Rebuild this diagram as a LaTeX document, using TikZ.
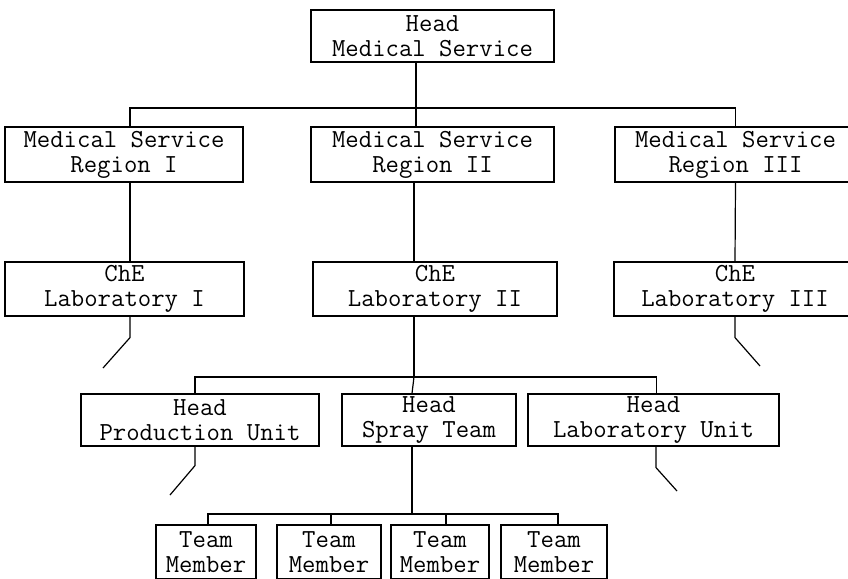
\documentclass[tikz,border=0pt]{standalone}
\usepackage{fontspec}

\begin{document}
\begin{tikzpicture}[x=1pt, y=-1pt,
  unit/.style={rectangle, draw, line width=1.2pt, inner sep=0pt, align=center, font=\ttfamily\fontsize{26}{25}\selectfont, minimum height=53},
  link/.style={line width=1.2pt}]
\useasboundingbox (0,0) rectangle (848,578);
\node[unit, minimum width=243, minimum height=52] (head) at (432.5, 36) {Head\\Medical Service};
\node[unit, minimum width=238, minimum height=55] (reg1) at (124, 154.5) {Medical Service\\Region I};
\node[unit, minimum width=243, minimum height=55] (reg2) at (432.5, 154.5) {Medical Service\\Region II};
\node[unit, minimum width=241, minimum height=55] (reg3) at (735.5, 154.5) {Medical Service\\Region III};
\node[unit, minimum width=239, minimum height=54] (che1) at (124.5, 289) {ChE\\Laboratory I};
\node[unit, minimum width=244, minimum height=54] (che2) at (435, 289) {ChE\\Laboratory II};
\node[unit, minimum width=242, minimum height=54] (che3) at (735, 289) {ChE\\Laboratory III};
\node[unit, minimum width=238, minimum height=52] (prod) at (200, 420) {Head\\Production Unit};
\node[unit, minimum width=174, minimum height=52] (spray) at (429, 420) {Head\\Spray Team};
\node[unit, minimum width=251, minimum height=52] (labu) at (653.5, 420) {Head\\Laboratory Unit};
\node[unit, minimum width=100, minimum height=54] (tm1) at (206, 552) {Team\\Member};
\node[unit, minimum width=104, minimum height=54] (tm2) at (329, 552) {Team\\Member};
\node[unit, minimum width=98, minimum height=54] (tm3) at (440, 552) {Team\\Member};
\node[unit, minimum width=106, minimum height=54] (tm4) at (554, 552) {Team\\Member};
\coordinate (j1) at (416, 108);
\coordinate (j2) at (414, 377);
\coordinate (j3) at (412, 514);
\coordinate (cut1) at (103, 368);
\coordinate (cut3) at (760, 366);
\coordinate (cutp) at (170, 495);
\coordinate (cutl) at (677, 491);
\draw[link] (head.south -| j1) -- (j1);
\draw[link] ([xshift=6]reg1.north) |- (j1) -| (reg3.north);
\draw[link] (j1) -- (j1 |- reg2.north);
\draw[link] ([xshift=6]reg1.south) -- ([xshift=5.5]che1.north);
\draw[link] ([xshift=-18.5]reg2.south) -- ([xshift=-21]che2.north);
\draw[link] (reg3.south) -- (che3.north);
\draw[link] ([xshift=5.5]che1.south) -- ++(0,21) -- (cut1);
\draw[link] (che3.south) -- ++(0,21) -- (cut3);
\draw[link] ([xshift=-21]che2.south) -- (j2);
\draw[link] ([xshift=-5]prod.north) |- (j2) -| ([xshift=3]labu.north);
\draw[link] (j2) -- ([xshift=-17]spray.north);
\draw[link] ([xshift=-5]prod.south) -- ++(0,19) -- (cutp);
\draw[link] ([xshift=2.5]labu.south) -- ++(0,21) -- (cutl);
\draw[link] ([xshift=-17]spray.south) -- (j3);
\draw[link] ([xshift=2]tm1.north) |- (j3) -| ([xshift=4]tm4.north);
\draw[link] ([xshift=2]tm2.north) -- ++(0,-11);
\draw[link] ([xshift=6]tm3.north) -- ++(0,-11);
\end{tikzpicture}
\end{document}
